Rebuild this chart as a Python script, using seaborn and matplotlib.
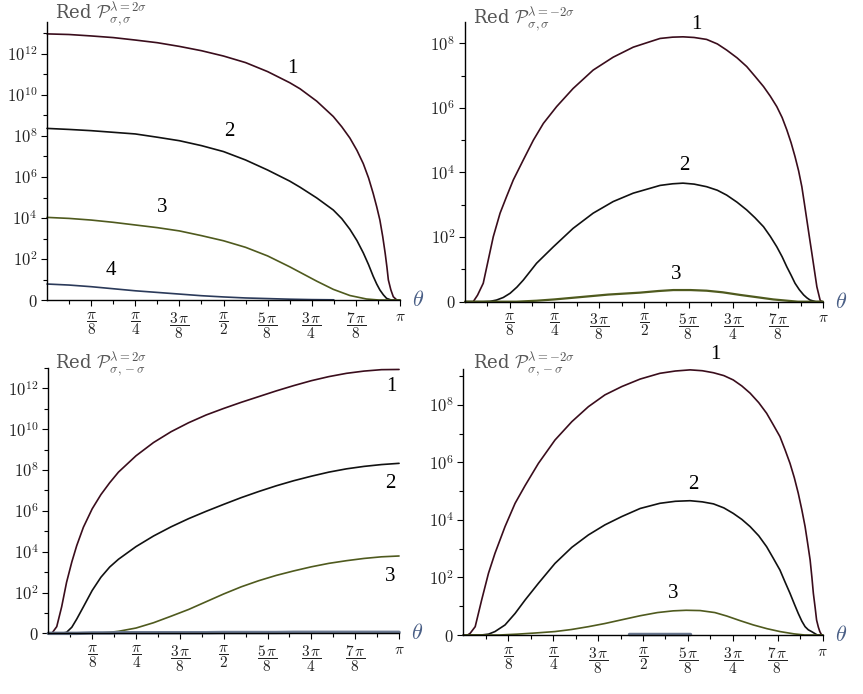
import numpy as np
import pandas as pd
import matplotlib
matplotlib.use("Agg")
import matplotlib.pyplot as plt
import seaborn as sns
from matplotlib.ticker import FixedLocator

sns.set_theme(style="white")
plt.rcParams["font.family"] = ["DejaVu Serif"]
plt.rcParams["mathtext.fontset"] = "cm"

# ---------------- data: theta in units of pi, values = log10 of Red P ----------------
# top-left: lambda = 2 sigma, (sigma, sigma)
tl_t1 = [0, .0625, .125, .1875, .25, .3125, .375, .4375, .5, .5625, .625, .6875, .717, .764,
         .811, .835, .858, .878, .896, .911, .924, .934, .943, .951, .958, .963, .967, .974, .981, .991]
tl_c1 = [12.98, 12.95, 12.88, 12.8, 12.68, 12.55, 12.37, 12.16, 11.9, 11.58, 11.14, 10.6, 10.3, 9.7,
         8.95, 8.45, 7.9, 7.3, 6.65, 5.95, 5.2, 4.55, 3.9, 3.1, 2.28, 1.6, 0.98, 0.5, 0.16, 0]
tl_t2 = [0, .0625, .125, .1875, .25, .3125, .375, .4375, .5, .5625, .625, .6875, .717, .764,
         .811, .835, .858, .878, .896, .911, .924, .934, .943, .953, .962, .975, 1.0]
tl_c2 = [8.37, 8.32, 8.26, 8.18, 8.1, 7.94, 7.77, 7.53, 7.24, 6.83, 6.34, 5.8, 5.5, 4.98,
         4.39, 3.97, 3.45, 2.9, 2.3, 1.72, 1.16, 0.78, 0.49, 0.25, 0.08, 0, 0]
tl_t3 = [0, .0625, .125, .1875, .25, .3125, .375, .4375, .5, .5625, .625, .6875, .717, .764,
         .811, .858, .905, .94, 1.0]
tl_c3 = [4.03, 3.98, 3.9, 3.79, 3.66, 3.53, 3.37, 3.14, 2.89, 2.57, 2.15, 1.62, 1.35, 0.92,
         0.52, 0.22, 0.05, 0, 0]
tl_t4 = [0, .0625, .125, .1875, .25, .3125, .375, .4375, .5, .5625, .625, .6875, .75, .8125]
tl_c4 = [0.78, 0.73, 0.65, 0.55, 0.45, 0.37, 0.29, 0.21, 0.15, 0.1, 0.07, 0.04, 0.02, 0.01]

# top-right: lambda = -2 sigma, (sigma, sigma)
tr_t1 = [0, .023, .035, .051, .065, .079, .098, .116, .135, .163, .191, .219, .256, .302, .358,
         .414, .47, .517, .545, .58, .609, .64, .675, .705, .731, .76, .787, .81, .834, .853,
         .871, .886, .899, .911, .922, .932, .941, .948, .955, .962, .969, .976, .983, .992, .996, 1.0]
tr_c1 = [0, 0, 0.2, 0.57, 1.29, 2.01, 2.74, 3.25, 3.77, 4.39, 5.0, 5.52, 6.04, 6.6, 7.17,
         7.57, 7.88, 8.05, 8.15, 8.19, 8.2, 8.18, 8.12, 7.98, 7.79, 7.55, 7.28, 6.98, 6.66, 6.36,
         6.04, 5.7, 5.32, 4.92, 4.49, 4.05, 3.56, 3.05, 2.53, 2.01, 1.5, 0.98, 0.46, 0.05, 0, 0]
tr_t2 = [0, .05, .07, .088, .107, .126, .145, .163, .2, .247, .302, .358, .414, .47, .517, .545,
         .58, .609, .64, .675, .705, .731, .76, .787, .81, .834, .853, .871, .886, .899, .911,
         .922, .934, .946, .955, .964, .98, 1.0]
tr_c2 = [0, 0, 0.01, 0.05, 0.13, 0.26, 0.45, 0.67, 1.19, 1.7, 2.27, 2.74, 3.1, 3.36, 3.51, 3.6,
         3.65, 3.67, 3.64, 3.56, 3.45, 3.3, 3.08, 2.84, 2.6, 2.32, 2.02, 1.7, 1.39, 1.08, 0.82,
         0.57, 0.37, 0.21, 0.12, 0.05, 0, 0]
tr_t3 = [0, .144, .2, .25, .33, .4, .489, .54, .582, .63, .675, .72, .768, .815, .861, .9, .93, 1.0]
tr_c3 = [0, 0, 0.03, 0.07, 0.15, 0.22, 0.28, 0.33, 0.36, 0.36, 0.34, 0.29, 0.21, 0.14, 0.07,
         0.03, 0, 0]

# bottom-left: lambda = 2 sigma, (sigma, -sigma)
bl_theta = [0, .01, .024, .038, .052, .067, .081, .1, .125, .15, .175, .2, .25, .3, .35, .4,
            .45, .5, .55, .6, .65, .7, .75, .8, .85, .9, .95, 1.0]
bl_c1 = [0, 0, 0.33, 1.3, 2.5, 3.5, 4.3, 5.2, 6.1, 6.8, 7.38, 7.9, 8.7, 9.35, 9.88, 10.32,
         10.7, 11.02, 11.32, 11.6, 11.88, 12.14, 12.38, 12.58, 12.74, 12.85, 12.92, 12.93]
bl_c2 = [0, 0, 0, 0, 0.05, 0.3, 0.7, 1.3, 2.1, 2.75, 3.25, 3.63, 4.25, 4.77, 5.22, 5.62,
         5.98, 6.32, 6.65, 6.95, 7.23, 7.48, 7.7, 7.9, 8.06, 8.18, 8.27, 8.33]
bl_c3 = [0, 0, 0, 0, 0, 0, 0, 0, 0.01, 0.02, 0.05, 0.1, 0.26, 0.52, 0.84, 1.17,
         1.55, 1.93, 2.28, 2.58, 2.84, 3.06, 3.26, 3.43, 3.56, 3.67, 3.75, 3.79]
bl_c4 = [0, 0, 0, 0, 0, 0, 0, 0.01, 0.02, 0.02, 0.02, 0.03, 0.03, 0.03, 0.03, 0.03,
         0.03, 0.04, 0.04, 0.04, 0.04, 0.05, 0.05, 0.05, 0.05, 0.05, 0.05, 0.05]

# bottom-right: lambda = -2 sigma, (sigma, -sigma)
br_t1 = [0, .012, .019, .033, .051, .07, .088, .116, .144, .172, .209, .255, .302, .348, .394,
         .441, .492, .547, .59, .631, .665, .696, .725, .751, .775, .798, .822, .844, .862, .881,
         .895, .909, .921, .932, .942, .951, .958, .965, .97, .974, .979, .983, .988, .992, .997, 1.0]
br_c1 = [0, 0, 0.06, 0.29, 1.22, 2.15, 2.84, 3.77, 4.58, 5.2, 5.97, 6.78, 7.42, 7.94, 8.35,
         8.64, 8.9, 9.1, 9.18, 9.22, 9.19, 9.12, 9.02, 8.87, 8.66, 8.41, 8.08, 7.71, 7.32, 6.9,
         6.45, 5.97, 5.47, 4.93, 4.35, 3.77, 3.2, 2.61, 2.0, 1.45, 0.95, 0.52, 0.27, 0.12, 0, 0]
br_t2 = [0, .05, .07, .088, .116, .144, .172, .209, .255, .302, .348, .394, .441, .492, .547,
         .59, .631, .665, .696, .725, .751, .775, .798, .822, .844, .862, .881, .895, .909, .921,
         .932, .942, .951, .96, .969, .985, 1.0]
br_c2 = [0, 0, 0.03, 0.12, 0.35, 0.75, 1.22, 1.8, 2.49, 3.05, 3.48, 3.83, 4.12, 4.4, 4.58,
         4.65, 4.67, 4.63, 4.56, 4.42, 4.23, 4.02, 3.77, 3.45, 3.07, 2.68, 2.26, 1.85, 1.45, 1.08,
         0.75, 0.48, 0.29, 0.18, 0.12, 0, 0]
br_t3 = [0, .1, .15, .2, .255, .3, .348, .394, .441, .492, .54, .584, .62, .659, .7, .733, .77,
         .807, .845, .881, .92, .95, 1.0]
br_c3 = [0, 0, 0.03, 0.07, 0.12, 0.19, 0.29, 0.4, 0.53, 0.67, 0.78, 0.84, 0.86, 0.85, 0.78,
         0.66, 0.5, 0.35, 0.22, 0.12, 0.04, 0, 0]
br_t4 = [0.46, 0.63]
br_c4 = [0.02, 0.02]

curve_labels = ["1", "2", "3", "4"]
titles = [r"Red $\mathcal{P}_{\sigma,\sigma}^{\lambda=2\sigma}$",
          r"Red $\mathcal{P}_{\sigma,\sigma}^{\lambda=-2\sigma}$",
          r"Red $\mathcal{P}_{\sigma,-\sigma}^{\lambda=2\sigma}$",
          r"Red $\mathcal{P}_{\sigma,-\sigma}^{\lambda=-2\sigma}$"]
xtick_labels = [r"$\dfrac{\pi}{8}$", r"$\dfrac{\pi}{4}$", r"$\dfrac{3\,\pi}{8}$",
                r"$\dfrac{\pi}{2}$", r"$\dfrac{5\,\pi}{8}$", r"$\dfrac{3\,\pi}{4}$",
                r"$\dfrac{7\,\pi}{8}$", r"$\pi$"]

C1 = "#3a0d1c"
C2 = "#111111"
C3 = "#4f5a1e"
C4 = "#2b3a5a"
C4B = "#6a7890"

fig = plt.figure(figsize=(8.63, 6.94), dpi=100)

panels = [
    dict(rect=[0.0545, 0.5677, 0.409, 0.4006], ymax=13.56, yticks=[0, 2, 4, 6, 8, 10, 12],
         curves=[(tl_t1, tl_c1, C1, 1.2), (tl_t2, tl_c2, C2, 1.2), (tl_t3, tl_c3, C3, 1.2),
                 (tl_t4, tl_c4, C4, 1.2)],
         labels=[(0.694, 11.3), (0.516, 8.24), (0.326, 4.5), (0.181, 1.46)],
         title_pos=(0.023, 1.025)),
    dict(rect=[0.5388, 0.5653, 0.4148, 0.4035], ymax=8.67, yticks=[0, 2, 4, 6, 8],
         curves=[(tr_t1, tr_c1, C1, 1.2), (tr_t2, tr_c2, C2, 1.2), (tr_t3, tr_c3, C3, 1.6)],
         labels=[(0.647, 8.57), (0.614, 4.23), (0.591, 0.83)],
         title_pos=(0.022, 1.006)),
    dict(rect=[0.056, 0.0874, 0.4064, 0.3823], ymax=13.0, yticks=[0, 2, 4, 6, 8, 10, 12],
         curves=[(bl_theta, bl_c1, C1, 1.2), (bl_theta, bl_c2, C2, 1.2), (bl_theta, bl_c3, C3, 1.2),
                 (bl_theta, bl_c4, C4B, 2.5)],
         labels=[(0.979, 12.08), (0.974, 7.35), (0.974, 2.78)],
         title_pos=(0.019, 1.011)),
    dict(rect=[0.5369, 0.085, 0.4164, 0.3833], ymax=9.25, yticks=[0, 2, 4, 6, 8],
         curves=[(br_t1, br_c1, C1, 1.2), (br_t2, br_c2, C2, 1.2), (br_t3, br_c3, C3, 1.2),
                 (br_t4, br_c4, C4B, 2.5)],
         labels=[(0.70, 9.74), (0.64, 5.22), (0.584, 1.45)],
         title_pos=(0.028, 1.015)),
]

for i, p in enumerate(panels):
    ax = fig.add_axes(p["rect"])
    for th, vals, col, lw in p["curves"]:
        sns.lineplot(x=np.array(th) * np.pi, y=np.array(vals), ax=ax, color=col, lw=lw,
                     sort=False, estimator=None, clip_on=False)
    ax.set_xlim(0, np.pi)
    ax.set_ylim(0, p["ymax"])
    for s in ["top", "right"]:
        ax.spines[s].set_visible(False)
    for s in ["left", "bottom"]:
        ax.spines[s].set_color("black")
        ax.spines[s].set_linewidth(1.0)
    ax.set_facecolor("white")
    # x ticks
    xt = np.arange(1, 9) * np.pi / 8
    ax.xaxis.set_major_locator(FixedLocator(xt))
    ax.xaxis.set_minor_locator(FixedLocator(np.arange(1, 16, 2) * np.pi / 16))
    ax.set_xticklabels(xtick_labels, fontsize=11, color="#222222")
    # y ticks
    ax.yaxis.set_major_locator(FixedLocator(p["yticks"]))
    ax.yaxis.set_minor_locator(FixedLocator(np.arange(1, int(p["ymax"]) + 1, 2)))
    ylabs = [r"$\mathbf{0}$"] + [r"$\mathbf{10}^{%d}$" % t for t in p["yticks"][1:]]
    ax.set_yticklabels(ylabs, fontsize=12, color="#222222")
    ax.tick_params(axis="both", which="both", direction="out", bottom=True, left=True,
                   colors="black", labelcolor="#222222")
    ax.tick_params(axis="both", which="major", length=4, width=0.8, pad=3)
    ax.tick_params(axis="both", which="minor", length=3, width=0.8)
    ax.set_xlabel("")
    ax.set_ylabel("")
    ax.grid(False)
    # title
    ax.text(p["title_pos"][0], p["title_pos"][1], titles[i], transform=ax.transAxes,
            fontsize=13, color="#555555", ha="left", va="center", clip_on=False)
    # theta label
    ax.text(1.035, 0.0, r"$\theta$", transform=ax.transAxes, fontsize=16,
            color="#4a5f86", ha="left", va="center", clip_on=False)
    # curve labels
    for lab, (lx, ly) in zip(curve_labels, p["labels"]):
        ax.text(lx * np.pi, ly, lab, fontsize=15, color="black", ha="center",
                va="center", clip_on=False, family="Liberation Serif")

fig.savefig("out.png", dpi=100, facecolor="white")
